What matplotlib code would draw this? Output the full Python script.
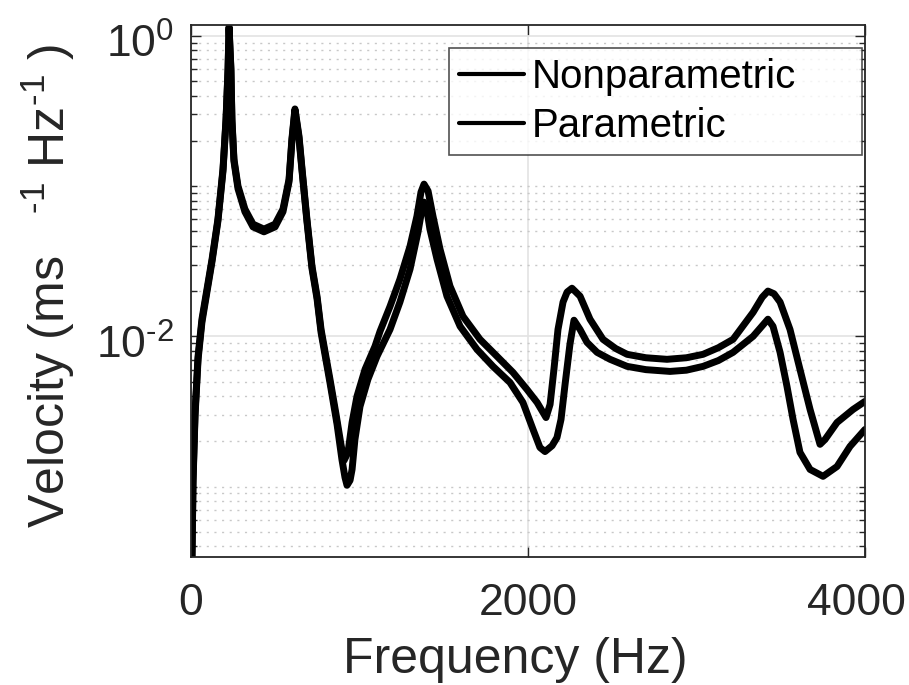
import numpy as np
import matplotlib
matplotlib.use("Agg")
import matplotlib.pyplot as plt
import matplotlib.transforms as mtransforms
from matplotlib.ticker import FixedLocator, FixedFormatter, LogLocator, NullFormatter

plt.rcParams['font.family'] = ['Liberation Sans', 'DejaVu Sans']
plt.rcParams['mathtext.fontset'] = 'custom'
plt.rcParams['mathtext.rm'] = 'Liberation Sans'
plt.rcParams['mathtext.it'] = 'Liberation Sans'
plt.rcParams['mathtext.default'] = 'regular'

# Nonparametric (upper curve)
freq_np = [3, 12, 24, 42, 65, 95, 125, 160, 190, 208, 220, 226, 237, 243, 255,
           279, 320, 368, 433, 499, 546, 582, 599, 617, 641, 659, 688, 718,
           748, 772, 825, 861, 890, 908, 932, 956, 985, 1033, 1092, 1122, 1181,
           1240, 1300, 1341, 1365, 1383, 1407, 1436, 1478, 1537, 1614, 1715,
           1816, 1911, 1994, 2054, 2107, 2131, 2154, 2178, 2208, 2232, 2261,
           2309, 2368, 2445, 2520, 2588, 2700, 2825, 2940, 3039, 3130, 3217,
           3336, 3390, 3424, 3460, 3496, 3555, 3614, 3674, 3733, 3763, 3834,
           3929, 4000]
vel_np = [2.0e-4, 1.11e-3, 3.11e-3, 7.36e-3, 0.0130, 0.0206, 0.0326, 0.0603,
          0.130, 0.279, 0.603, 1.15, 0.603, 0.279, 0.151, 0.100, 0.0703,
          0.0558, 0.0517, 0.0558, 0.0703, 0.111, 0.206, 0.326, 0.215, 0.130,
          0.0603, 0.0293, 0.0185, 0.0111, 5.17e-3, 3.02e-3, 1.91e-3, 1.49e-3,
          1.69e-3, 2.67e-3, 3.98e-3, 6.03e-3, 8.58e-3, 0.0108, 0.0158, 0.0240,
          0.0398, 0.0631, 0.0912, 0.103, 0.0927, 0.0631, 0.0380, 0.0216,
          0.0136, 9.55e-3, 7.36e-3, 5.75e-3, 4.43e-3, 3.63e-3, 2.88e-3,
          3.52e-3, 6.03e-3, 0.0111, 0.0169, 0.0197, 0.0209, 0.0185, 0.0130,
          9.55e-3, 8.3e-3, 7.59e-3, 7.2e-3, 7.03e-3, 7.2e-3, 7.59e-3, 8.4e-3,
          9.55e-3, 0.01445, 0.0182, 0.0200, 0.0192, 0.0169, 0.0111, 6.03e-3,
          3.26e-3, 1.91e-3, 2.06e-3, 2.67e-3, 3.26e-3, 3.69e-3]

# Parametric (lower curve)
freq_p = [3, 12, 24, 42, 65, 95, 125, 160, 190, 208, 220, 226, 237, 243, 255,
          279, 320, 368, 433, 499, 546, 582, 599, 617, 641, 659, 688, 718, 748,
          772, 825, 867, 896, 914, 926, 944, 956, 973, 1003, 1050, 1104, 1181,
          1240, 1300, 1347, 1371, 1383, 1401, 1418, 1460, 1519, 1597, 1697,
          1792, 1893, 1970, 2030, 2071, 2101, 2143, 2172, 2196, 2220, 2249,
          2273, 2309, 2350, 2410, 2487, 2588, 2700, 2843, 2940, 3039, 3130,
          3217, 3336, 3424, 3454, 3496, 3537, 3573, 3614, 3674, 3751, 3834,
          3911, 4000]
vel_p = [1.9e-4, 1.05e-3, 2.95e-3, 7.0e-3, 0.0124, 0.0198, 0.0315, 0.0585,
         0.126, 0.272, 0.59, 1.12, 0.59, 0.27, 0.146, 0.096, 0.0675, 0.0535,
         0.0496, 0.0535, 0.0675, 0.107, 0.199, 0.318, 0.208, 0.126, 0.0585,
         0.0283, 0.0178, 0.0106, 4.9e-3, 2.59e-3, 1.51e-3, 1.15e-3, 1.02e-3,
         1.10e-3, 1.30e-3, 2.06e-3, 3.41e-3, 5.17e-3, 7.36e-3, 0.0111, 0.0169,
         0.0280, 0.0493, 0.0703, 0.0782, 0.0681, 0.0517, 0.0326, 0.0185,
         0.01166, 8.19e-3, 6.31e-3, 4.93e-3, 3.63e-3, 2.40e-3, 1.82e-3,
         1.71e-3, 1.87e-3, 2.12e-3, 2.80e-3, 4.79e-3, 8.85e-3, 0.0128, 0.0111,
         9.12e-3, 7.82e-3, 7.03e-3, 6.31e-3, 6.0e-3, 5.84e-3, 5.95e-3, 6.31e-3,
         6.9e-3, 7.82e-3, 0.0100, 0.0130, 0.01166, 7.82e-3, 4.64e-3, 2.80e-3,
         1.69e-3, 1.30e-3, 1.17e-3, 1.36e-3, 1.85e-3, 2.40e-3]

xticks = [0, 2000, 4000]
yticks = [1e-2, 1e0]
ytick_labels = [r'$10^{\text{-2}}$', r'$10^{\text{0}}$']

fig = plt.figure(figsize=(9.09, 6.85), dpi=100)
ax = fig.add_axes([0.2101, 0.1869, 0.7415, 0.7766])

ax.plot(freq_np, vel_np, color='k', lw=5.0, solid_joinstyle='round',
        solid_capstyle='round', label='Nonparametric')
ax.plot(freq_p, vel_p, color='k', lw=5.0, solid_joinstyle='round',
        solid_capstyle='round', label='Parametric')

ax.set_yscale('log')
ax.set_xlim(0, 4000)
ax.set_ylim(3.4e-4, 1.18)

ax.xaxis.set_major_locator(FixedLocator(xticks))
ax.yaxis.set_major_locator(FixedLocator(yticks))
ax.yaxis.set_major_formatter(FixedFormatter(ytick_labels))
ax.yaxis.set_minor_locator(LogLocator(base=10, subs=np.arange(1, 10), numticks=20))
ax.yaxis.set_minor_formatter(NullFormatter())

ax.grid(True, which='major', color='#e3e3e3', lw=1.2, ls='-')
ax.grid(True, which='minor', axis='y', color='#c8c8c8', lw=1.0, ls=(0, (1.5, 4)))
ax.set_axisbelow(True)

ax.tick_params(which='both', direction='in', top=True, right=True,
               colors='#262626', labelsize=32, width=1.0)
ax.tick_params(which='major', length=7)
ax.tick_params(axis='x', which='major', pad=19)
ax.tick_params(axis='y', which='major', pad=12)
ax.tick_params(which='minor', length=4)
for s in ax.spines.values():
    s.set_color('#262626')
    s.set_linewidth(1.3)

ax.set_xlabel('Frequency (Hz)', fontsize=36, color='#262626', labelpad=9)
ax.xaxis.label.set_x(0.481)
ax.set_ylabel(r'Velocity (ms   $^{\text{-1}}$ Hz$^{\text{-1}}$ )', fontsize=36,
              color='#262626', labelpad=14)
ax.yaxis.label.set_y(0.51)

# small label nudges as in the original export
for lbl in ax.get_yticklabels():
    lbl.set_transform(lbl.get_transform() +
                      mtransforms.ScaledTranslation(0, -5 / 100, fig.dpi_scale_trans))
xl = ax.get_xticklabels()
xl[-1].set_transform(xl[-1].get_transform() +
                     mtransforms.ScaledTranslation(-9 / 100, 0, fig.dpi_scale_trans))

leg = ax.legend(loc='upper left', bbox_to_anchor=(0.3828, 0.9568, 0.6127, 0.0),
                mode='expand', fontsize=29, frameon=True, fancybox=False,
                edgecolor='#262626', handlelength=1.6, handletextpad=0.2,
                borderpad=0.25, labelspacing=0.27, borderaxespad=0)
leg.get_frame().set_linewidth(1.2)
for ln in leg.get_lines():
    ln.set_linewidth(3)

fig.savefig('out.png', dpi=100)
